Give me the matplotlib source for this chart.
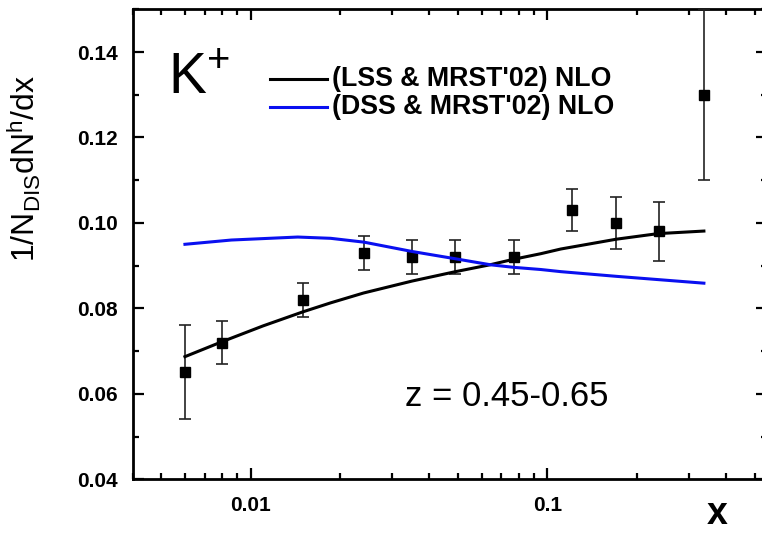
import matplotlib
matplotlib.use("Agg")
import matplotlib.pyplot as plt
from matplotlib.lines import Line2D
from matplotlib.ticker import MultipleLocator, FixedLocator, LogLocator, NullFormatter

plt.rcParams.update({
    "font.family": "Liberation Sans",
    "mathtext.default": "regular",
})

# ---- data ----
x_data = [0.006, 0.008, 0.015, 0.024, 0.035, 0.049, 0.077, 0.121, 0.171, 0.237, 0.337]
y_data = [0.065, 0.072, 0.082, 0.093, 0.092, 0.092, 0.092, 0.103, 0.100, 0.098, 0.130]
y_err = [0.011, 0.005, 0.004, 0.004, 0.004, 0.004, 0.004, 0.005, 0.006, 0.007, 0.020]

lss_x = [0.006, 0.008, 0.011, 0.015, 0.0186, 0.024, 0.035, 0.049, 0.064, 0.077, 0.095, 0.111, 0.171, 0.236, 0.337]
lss_y = [0.0687, 0.0722, 0.0759, 0.0792, 0.0813, 0.0836, 0.0864, 0.0886, 0.0902, 0.0915, 0.0928, 0.0939, 0.0962, 0.0975, 0.0981]

dss_x = [0.006, 0.0086, 0.0144, 0.0186, 0.0241, 0.0351, 0.0491, 0.0644, 0.0772, 0.095, 0.111, 0.171, 0.337]
dss_y = [0.0950, 0.0960, 0.0967, 0.0964, 0.0955, 0.0933, 0.0916, 0.0902, 0.0896, 0.0891, 0.0886, 0.0875, 0.0859]

labels = ["(LSS & MRST'02) NLO", "(DSS & MRST'02) NLO"]
BLUE = "#0a10f0"

W, H = 762, 534
fig = plt.figure(figsize=(W / 100, H / 100), dpi=100)
ax = fig.add_axes([132.7 / W, 1 - 479.3 / H, (767 - 132.7) / W, (479.3 - 9.3) / H])

ax.errorbar(x_data, y_data, yerr=y_err, fmt="s", color="black", ms=7.5,
            ecolor="#222222", elinewidth=1.2, capsize=4.5, capthick=1.2, zorder=3)
ax.plot(lss_x, lss_y, color="black", lw=2.2, zorder=4)
ax.plot(dss_x, dss_y, color=BLUE, lw=2.2, zorder=4)

ax.set_xscale("log")
ax.set_xlim(0.004, 0.55)
ax.set_ylim(0.04, 0.15)
ax.xaxis.set_major_locator(FixedLocator([0.01, 0.1]))
ax.xaxis.set_minor_locator(LogLocator(base=10, subs=range(2, 10)))
ax.xaxis.set_minor_formatter(NullFormatter())
ax.set_xticklabels(["0.01", "0.1"])
ax.yaxis.set_major_locator(FixedLocator([0.04, 0.06, 0.08, 0.10, 0.12, 0.14]))
ax.yaxis.set_minor_locator(MultipleLocator(0.01))
ax.set_yticklabels(["0.04", "0.06", "0.08", "0.10", "0.12", "0.14"])

ax.tick_params(which="both", direction="in", top=True, right=True, width=1.6)
ax.tick_params(which="major", length=8)
ax.tick_params(which="minor", length=4.5)
ax.tick_params(axis="y", which="major", pad=11, labelsize=15)
ax.tick_params(axis="x", which="major", pad=12, labelsize=15)
for lab in ax.get_xticklabels() + ax.get_yticklabels():
    lab.set_fontweight("bold")
for s in ax.spines.values():
    s.set_linewidth(2)

# K+ and z range
fig.text(168 / W, 1 - 93.3 / H, "K$^{+}$", fontsize=41, va="baseline", ha="left")
fig.text(405 / W, 1 - 397 / H, "z = 0.45-0.65", fontsize=25, va="center", ha="left")

# legend drawn by hand
leg_y = [78.5, 106.5]
for lab, col, yy in zip(labels, ["black", BLUE], leg_y):
    fig.add_artist(Line2D([270 / W, 327 / W], [1 - yy / H] * 2, color=col, lw=2.2))
    fig.text(332 / W, 1 - yy / H, lab, fontsize=19.3, fontweight="bold", va="center", ha="left")

fig.text(24 / W, 1 - 168 / H, r"1/N$_{DIS}$dN$^{h}$/dx", rotation=90,
         fontsize=23, va="center", ha="center")
fig.text(717 / W, 1.5 / H, "x", fontsize=27, fontweight="bold", va="bottom", ha="center")

fig.savefig("out.png", dpi=100, facecolor="white")
